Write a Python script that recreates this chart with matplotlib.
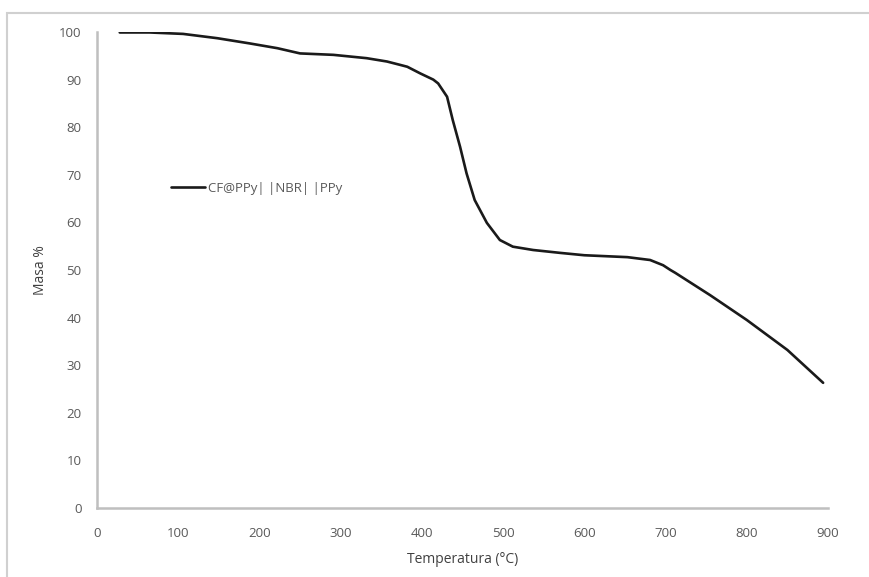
import matplotlib.pyplot as plt
import matplotlib.patches as mpatches

# ── Data ──────────────────────────────────────────────────────────────────────
temperatura = [28, 65, 106, 148, 188, 222, 250, 291, 332, 357, 373, 382, 398,
               414, 420, 431, 438, 447, 455, 465, 480, 496, 512, 537, 570, 600,
               653, 681, 697, 706, 712, 755, 800, 850, 894]
masa = [99.9, 99.9, 99.6, 98.7, 97.6, 96.6, 95.5, 95.2, 94.5, 93.8, 93.1,
        92.7, 91.3, 90.0, 89.2, 86.4, 81.5, 75.9, 70.3, 64.7, 59.9, 56.3, 54.9,
        54.2, 53.6, 53.1, 52.7, 52.1, 51.0, 50.0, 49.4, 44.7, 39.5, 33.2, 26.3]
serie = "CF@PPy| |NBR| |PPy"
x_ticks = [0, 100, 200, 300, 400, 500, 600, 700, 800, 900]
y_ticks = [0, 10, 20, 30, 40, 50, 60, 70, 80, 90, 100]

# ── Figure ────────────────────────────────────────────────────────────────────
TICK = "#595959"
AXIS = "#bfbfbf"
plt.rcParams["font.family"] = ["Open Sans", "DejaVu Sans"]

fig = plt.figure(figsize=(8.69, 5.77), dpi=100)
fig.patch.set_facecolor("white")

# outer chart frame (only top and left edges visible)
frame = mpatches.Rectangle((7.5 / 869, -0.1), 1.2, (577 - 13) / 577 + 0.1,
                           transform=fig.transFigure, fill=False,
                           edgecolor="#d0d0d0", linewidth=1.5)
fig.patches.append(frame)

ax = fig.add_axes([97 / 869, 69 / 577, 731 / 869, 476 / 577])
ax.plot(temperatura, masa, color="#1a1a1a", linewidth=1.9, label=serie,
        solid_joinstyle="round", solid_capstyle="round")

ax.set_xlim(0, 900)
ax.set_ylim(0, 100)
ax.set_xticks(x_ticks)
ax.set_yticks(y_ticks)
ax.tick_params(length=0, colors=TICK, labelsize=9.5)
ax.tick_params(axis="x", pad=14)
ax.tick_params(axis="y", pad=11)

for side in ["top", "right"]:
    ax.spines[side].set_visible(False)
for side in ["left", "bottom"]:
    ax.spines[side].set_color(AXIS)
    ax.spines[side].set_linewidth(1.8)

ax.set_xlabel("Temperatura (°C)", fontsize=10, color="#404040", labelpad=8)
ax.set_ylabel("Masa %", fontsize=10, color="#404040", labelpad=8)

ax.legend(loc="upper left", bbox_to_anchor=(0.085, 0.71), frameon=False,
          fontsize=9.5, handlelength=2.6, handletextpad=0.2,
          labelcolor=TICK)

plt.savefig("out.png", dpi=100, facecolor="white")
